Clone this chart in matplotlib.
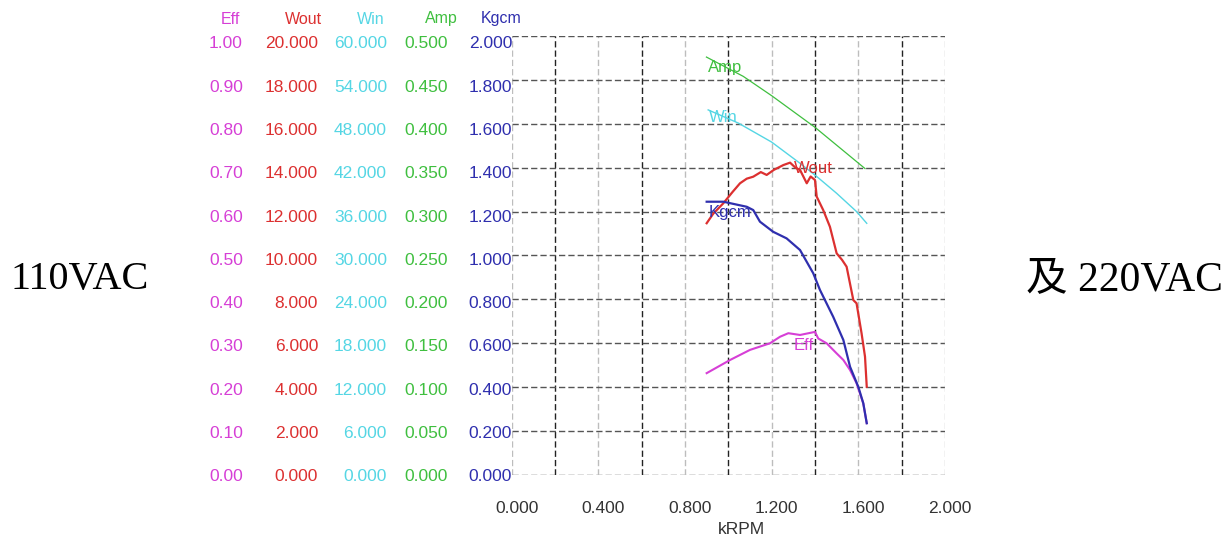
# Curvas do motor: Eff, Wout, Win, Amp e Kgcm em funcao de kRPM
import matplotlib
matplotlib.use('Agg')
import matplotlib.pyplot as plt
import matplotlib.transforms as mtransforms

# Dados
rpm_amp = [0.899, 1.069, 1.20, 1.400, 1.631]
amp = [0.476, 0.454, 0.432, 0.396, 0.349]

rpm_win = [0.907, 1.046, 1.20, 1.331, 1.408, 1.50, 1.592, 1.639]
win = [49.9, 48.1, 45.5, 42.6, 40.8, 38.5, 36.0, 34.4]

rpm_wout = [0.900, 0.93, 0.977, 1.02, 1.054, 1.085, 1.115, 1.15, 1.177, 1.21,
            1.254, 1.285, 1.31, 1.331, 1.362, 1.380, 1.400, 1.408, 1.438,
            1.469, 1.500, 1.525, 1.546, 1.577, 1.592, 1.615, 1.631, 1.639]
wout = [11.47, 11.9, 12.38, 12.9, 13.29, 13.5, 13.59, 13.8, 13.67, 13.9,
        14.12, 14.23, 14.0, 13.90, 13.29, 13.6, 13.44, 12.68, 12.07,
        11.31, 10.10, 9.8, 9.49, 7.97, 7.82, 6.46, 5.39, 4.02]

rpm_kg = [0.900, 0.977, 1.085, 1.115, 1.146, 1.207, 1.269, 1.331, 1.392,
          1.423, 1.484, 1.531, 1.562, 1.600, 1.623, 1.639]
kgcm = [1.245, 1.245, 1.222, 1.207, 1.154, 1.108, 1.078, 1.025, 0.919,
        0.843, 0.721, 0.615, 0.493, 0.402, 0.327, 0.236]

rpm_eff = [0.900, 1.008, 1.100, 1.192, 1.239, 1.277, 1.331, 1.400, 1.415,
           1.454, 1.500, 1.531, 1.562, 1.592, 1.623, 1.639]
eff = [0.232, 0.262, 0.285, 0.300, 0.315, 0.323, 0.319, 0.326, 0.311,
       0.300, 0.277, 0.262, 0.239, 0.209, 0.163, 0.118]

# Escalas (valor maximo de cada eixo) e nomes
nomes = ['Eff', 'Wout', 'Win', 'Amp', 'Kgcm']
maximos = [1.0, 20.0, 60.0, 0.5, 2.0]
formatos = ['%.2f', '%.3f', '%.3f', '%.3f', '%.3f']
cores = ['#d63fd6', '#dc3030', '#55d6e4', '#3fbf3f', '#2f2fae']

x_ticks = [0.0, 0.4, 0.8, 1.2, 1.6, 2.0]

fig = plt.figure(figsize=(12.28, 5.42), dpi=100)
ax = fig.add_axes([0.4167, 0.1236, 0.3528, 0.81])
ax.set_xlim(0, 2.0)
ax.set_ylim(0, 1.0)

# Grade tracejada
for i in range(11):
    xv = i * 0.2
    if i % 2 == 0:
        ax.axvline(xv, color='#bdbdbd', lw=1.0, ls=(0, (4.5, 2.2)), zorder=1)
    else:
        ax.axvline(xv, color='#222222', lw=1.0, ls=(0, (4.5, 2.2)), zorder=1)
    ax.axhline(i * 0.1, color='#555555', lw=1.0, ls=(0, (4.5, 2.2)), zorder=1)

for s in ax.spines.values():
    s.set_visible(False)
ax.set_yticks([])
ax.set_xticks(x_ticks, ['%.3f' % v for v in x_ticks])
ax.tick_params(axis='x', length=0, pad=19, labelsize=12.5, labelcolor='#333333')
off = mtransforms.ScaledTranslation(5 / 100, 0, fig.dpi_scale_trans)
for lbl in ax.get_xticklabels():
    lbl.set_fontfamily('Liberation Sans')
    lbl.set_transform(lbl.get_transform() + off)
fig.text(741 / 1228, 1 - 530 / 542, 'kRPM', ha='center', va='center',
         fontsize=12.5, color='#333333', family='Liberation Sans')

# Curvas (normalizadas pela escala de cada grandeza)
series = [(rpm_eff, eff), (rpm_wout, wout), (rpm_win, win),
          (rpm_amp, amp), (rpm_kg, kgcm)]
larguras = [1.5, 1.6, 1.0, 0.9, 1.6]
for (xs, ys), m, c, lw in zip(series, maximos, cores, larguras):
    ax.plot(xs, [v / m for v in ys], color=c, lw=lw, zorder=3)

# Rotulos sobre as curvas
pos_rot = [(1.346, 0.296), (1.391, 0.699), (0.976, 0.815),
           (0.985, 0.929), (1.008, 0.599)]
for nome, c, (px, py) in zip(nomes, cores, pos_rot):
    ax.text(px, py, nome, color=c, fontsize=12, ha='center', va='center',
            family='Liberation Sans', zorder=4)

# Colunas de valores a esquerda
bordas = [243, 318, 387, 448, 512]
bordas_tit = [240, 322, 385, 458, 522]
for nome, m, fmt, c, b, bt in zip(nomes, maximos, formatos, cores, bordas, bordas_tit):
    fig.text(bt / 1228, 1 - 19 / 542, nome, color=c, fontsize=11.5,
             ha='right', va='center', family='Liberation Sans')
    for i in range(11):
        f = i / 10
        py = 476.7 - i * 43.27
        fig.text(b / 1228, 1 - py / 542, fmt % (m * f), color=c, fontsize=12.5,
                 ha='right', va='center', family='Liberation Sans')

# Textos laterais
fig.text(11 / 1228, 1 - 280 / 542, '110VAC', fontsize=29, ha='left', va='center',
         family=['Liberation Serif', 'Noto Sans CJK SC'], color='black')
fig.text(1223 / 1228, 1 - 280 / 542, '及 220VAC', fontsize=30, ha='right', va='center',
         family=['Liberation Serif', 'Noto Sans CJK SC'], color='black')

fig.savefig('out.png', dpi=100)
